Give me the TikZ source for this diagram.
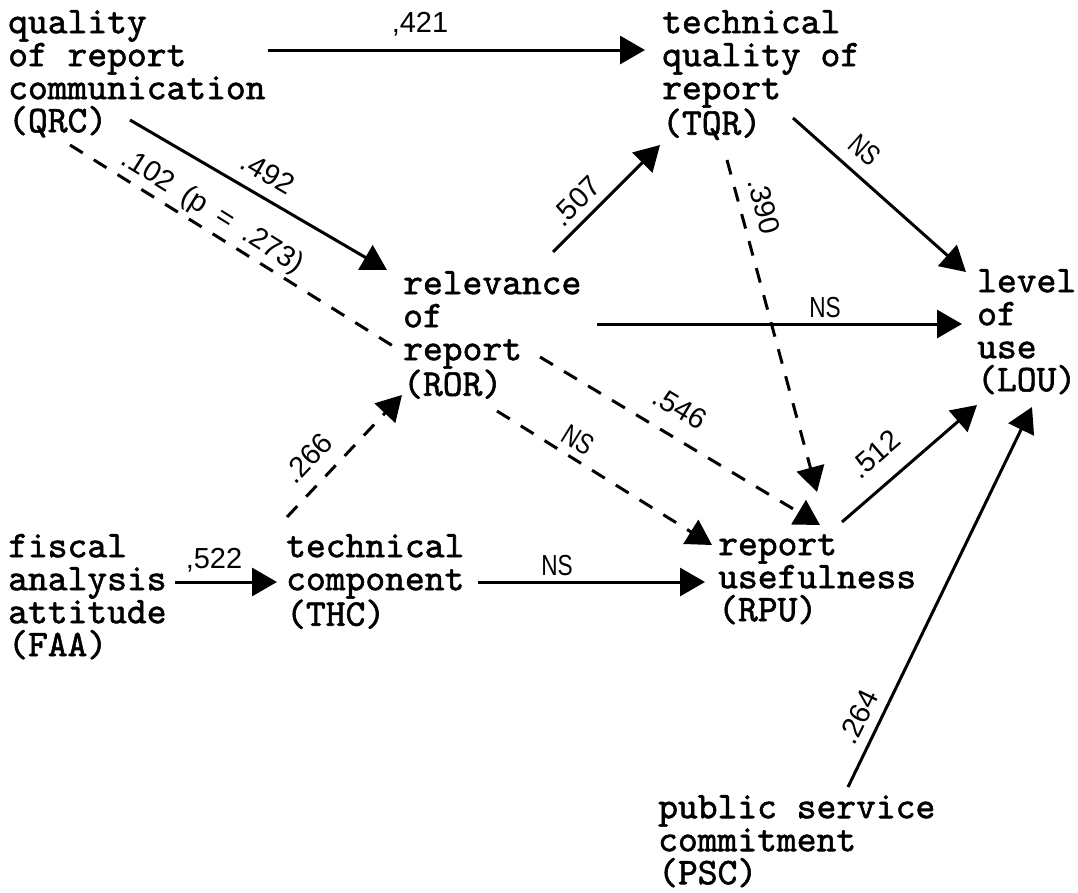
\documentclass[tikz,border=0pt]{standalone}
\usepackage{fontspec}
\usetikzlibrary{arrows.meta}
\newfontfamily\boxfont[FakeBold=1.5]{lmmono10-regular.otf}
\newfontfamily\pathfont{Liberation Sans}
\newfontfamily\pathfontnarrow[FakeStretch=0.78]{Liberation Sans}
% invisible rule giving every first line the same height
\newcommand\vlead{\rule{0pt}{26pt}}
\tikzset{
  var/.style={anchor=north west, inner sep=0pt, align=left,
    font=\boxfont\fontsize{37.7}{33}\selectfont},
  coef/.style={inner sep=0pt, font=\pathfont\fontsize{29}{29}\selectfont},
  nscoef/.style={inner sep=0pt, font=\pathfontnarrow\fontsize{29}{29}\selectfont},
  patharrow/.style={line width=3pt, -{Triangle[length=25pt,width=28pt]}},
  dasharrow/.style={patharrow, dash pattern=on 15pt off 13pt},
  dashline/.style={line width=3pt, dash pattern=on 15pt off 13pt},
}
\begin{document}
\begin{tikzpicture}[x=1pt, y=-1pt]
\fill[white] (0,0) rectangle (1078,892);
\useasboundingbox (0,0) rectangle (1078,892);

% variables
\node[var] (QRC) at (8,7)   {\vlead quality\\of report\\communication\\(QRC)};
\node[var] (TQR) at (662,7) {\vlead technical\\quality of\\report\\(TQR)};
\node[var] (ROR) at (403,268) {\vlead relevance\\of\\report\\(ROR)};
\node[var] (LOU) at (977,266) {\vlead level\\of\\use\\(LOU)};
\node[var] (FAA) at (8,531)   {\vlead fiscal\\analysis\\attitude\\(FAA)};
\node[var] (THC) at (286,531) {\vlead technical\\component\\(THC)};
\node[var] (RPU) at (718,529) {\vlead report\\usefulness\\(RPU)};
\node[var] (PSC) at (658,792) {\vlead public service\\commitment\\(PSC)};

% paths
\draw[patharrow] ([shift={(260,43)}]QRC.north west) -- ([shift={(-17,43)}]TQR.north west);
\draw[patharrow] ([shift={(122,113)}]QRC.north west) -- ([shift={(-16,2)}]ROR.north west);
\draw[dashline]  ([shift={(62,138)}]QRC.north west) -- ([shift={(-10,78)}]ROR.north west);
\draw[dasharrow] ([shift={(94,143)}]ROR.north west) -- ([shift={(-6,16)}]RPU.north west);
\draw[patharrow] ([shift={(131,111)}]TQR.north west) -- ([shift={(-11,6)}]LOU.north west);
\draw[dasharrow] ([shift={(65,153)}]TQR.north west) -- ([shift={(99,-37)}]RPU.north west);
\draw[patharrow] ([shift={(150,-16)}]ROR.north west) -- ([shift={(-2,138)}]TQR.north west);
\draw[patharrow] ([shift={(194,56)}]ROR.north west) -- ([shift={(-15,58)}]LOU.north west);
\draw[dasharrow] ([shift={(137,89)}]ROR.north west) -- ([shift={(102,-4)}]RPU.north west);
\draw[dasharrow] ([shift={(1,-14)}]THC.north west) -- ([shift={(-1,127)}]ROR.north west);
\draw[patharrow] ([shift={(167,51)}]FAA.north west) -- ([shift={(-9,51)}]THC.north west);
\draw[patharrow] ([shift={(192,51)}]THC.north west) -- ([shift={(-13,53)}]RPU.north west);
\draw[patharrow] ([shift={(124,-7)}]RPU.north west) -- ([shift={(0,139)}]LOU.north west);
\draw[patharrow] ([shift={(190,-5)}]PSC.north west) -- ([shift={(55,141)}]LOU.north west);

% path coefficients
\node[coef, anchor=base] (c421) at (420,32) {,421};
\node[coef, anchor=base] (c522) at (214,568) {,522};
\node[nscoef, anchor=base] (cthc) at (557,575) {NS};
\node[nscoef, anchor=base] (cror) at (825,317) {NS};
\node[nscoef, rotate=-41.7] (ctqr) at (865,150) {NS};
\node[coef, rotate=-30.3] (c492) at (268,173) {.492};
\node[coef, rotate=-32] (c102) at (212,212) {.102\enspace(p\enspace=\enspace.273)};
\node[coef, rotate=45] (c507) at (576,201) {.507};
\node[coef, rotate=-75] (c390) at (764,206) {.390};
\node[coef, rotate=-31] (c546) at (680,408) {.546};
\node[nscoef, rotate=-31.6] (crpu) at (578,440) {NS};
\node[coef, rotate=46.7] (c266) at (308,458) {.266};
\node[coef, rotate=41] (c512) at (875,454) {.512};
\node[coef, rotate=64] (c264) at (858,717) {.264};
\end{tikzpicture}
\end{document}
